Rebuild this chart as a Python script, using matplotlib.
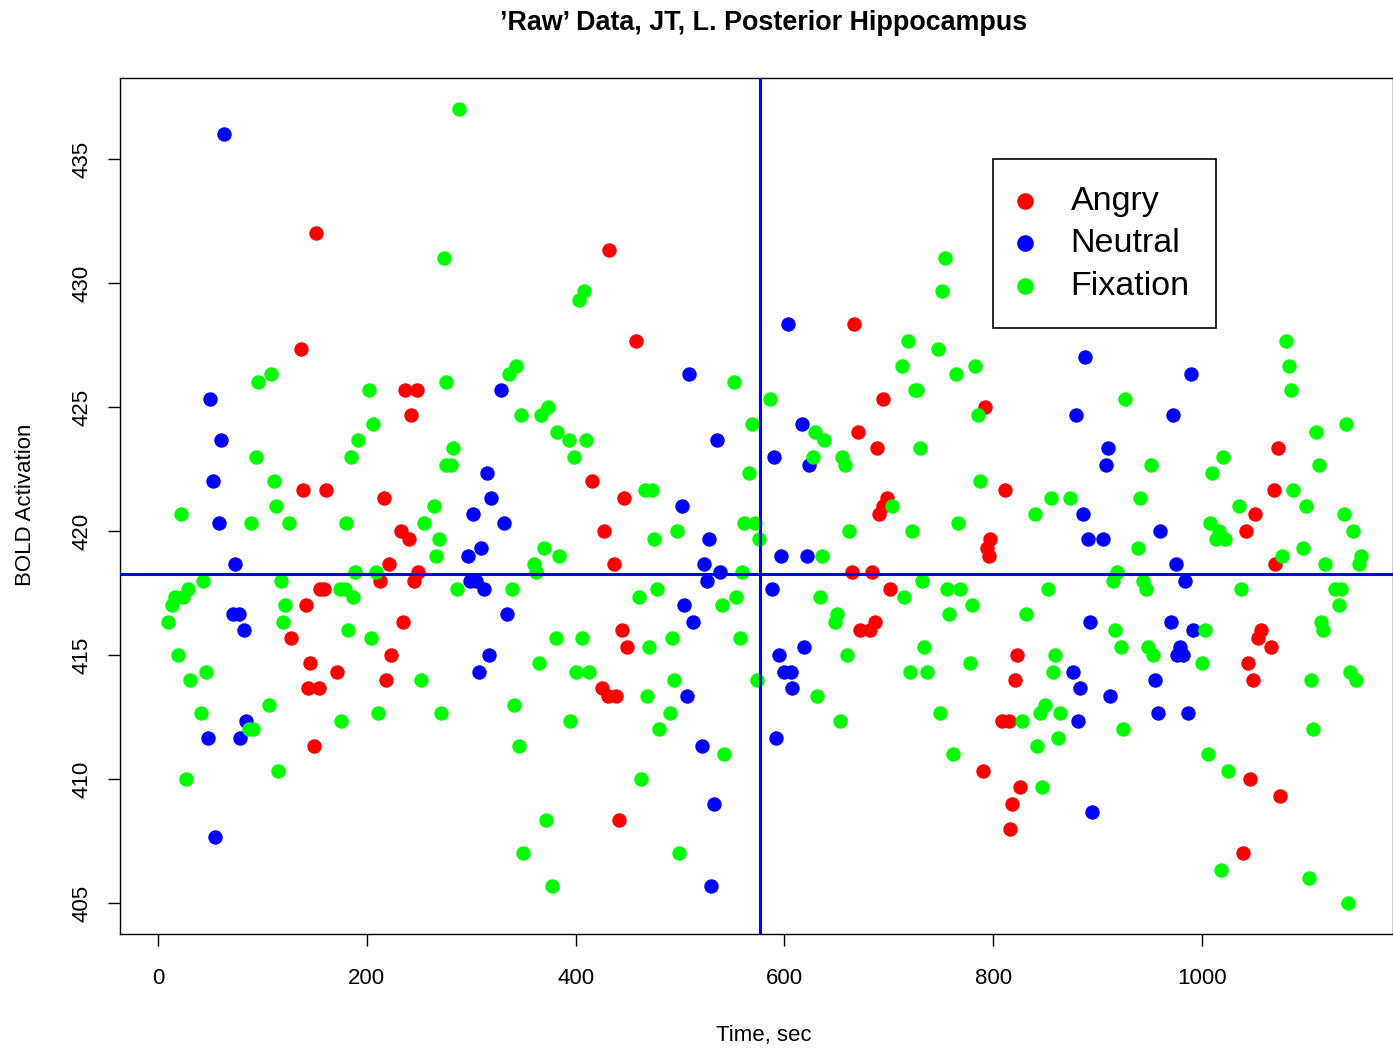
import matplotlib.pyplot as plt

plt.rcParams['font.family'] = ['Liberation Sans', 'DejaVu Sans']

# Angry trials
angry_time = [137, 151, 139, 161, 155, 159, 142, 127, 146, 171, 144, 154, 149,
              237, 248, 242, 216, 233, 240, 221, 213, 249, 245, 235, 223, 218,
              432, 458, 416, 446, 427, 437, 444, 449, 425, 431, 439, 442,
              667, 694, 792, 670, 689, 698, 694, 691, 665, 684, 701, 672, 682, 687,
              797, 794, 796, 790, 811, 823, 821, 808, 815, 826, 818, 816,
              1073, 1069, 1051, 1042, 1070, 1056, 1054, 1066, 1044, 1049, 1046, 1075, 1039]
angry_bold = [427.33, 432.0, 421.67, 421.67, 417.67, 417.67, 417.0, 415.67, 414.67, 414.33, 413.67, 413.67, 411.33,
              425.67, 425.67, 424.67, 421.33, 420.0, 419.67, 418.67, 418.0, 418.33, 418.0, 416.33, 415.0, 414.0,
              431.33, 427.67, 422.0, 421.33, 420.0, 418.67, 416.0, 415.33, 413.67, 413.33, 413.33, 408.33,
              428.33, 425.33, 425.0, 424.0, 423.33, 421.33, 421.0, 420.67, 418.33, 418.33, 417.67, 416.0, 416.0, 416.33,
              419.67, 419.33, 419.0, 410.33, 421.67, 415.0, 414.0, 412.33, 412.33, 409.67, 409.0, 408.0,
              423.33, 421.67, 420.67, 420.0, 418.67, 416.0, 415.67, 415.33, 414.67, 414.0, 410.0, 409.33, 407.0]

# Neutral trials
neutral_time = [63, 50, 60, 53, 58, 74, 72, 78, 82, 84,
                48, 79, 55, 329, 315, 319, 302, 331, 309, 297,
                299, 305, 312, 334, 317, 307, 509, 535, 590, 502,
                528, 523, 597, 538, 526, 588, 504, 512, 595, 600,
                606, 507, 521, 592, 533, 530, 603, 617, 624, 622,
                619, 607, 888, 989, 879, 972, 910, 908, 886, 960,
                891, 905, 975, 984, 893, 970, 991, 979, 976, 982,
                876, 883, 912, 955, 881, 958, 987, 895]
neutral_bold = [436.0, 425.33, 423.67, 422.0, 420.33, 418.67, 416.67, 416.67, 416.0, 412.33,
                411.67, 411.67, 407.67, 425.67, 422.33, 421.33, 420.67, 420.33, 419.33, 419.0,
                418.0, 418.0, 417.67, 416.67, 415.0, 414.33, 426.33, 423.67, 423.0, 421.0,
                419.67, 418.67, 419.0, 418.33, 418.0, 417.67, 417.0, 416.33, 415.0, 414.33,
                414.33, 413.33, 411.33, 411.67, 409.0, 405.67, 428.33, 424.33, 422.67, 419.0,
                415.33, 413.67, 427.0, 426.33, 424.67, 424.67, 423.33, 422.67, 420.67, 420.0,
                419.67, 419.67, 418.67, 418.0, 416.33, 416.33, 416.0, 415.33, 415.0, 415.0,
                414.33, 413.67, 413.33, 414.0, 412.33, 412.67, 412.67, 408.67]

# Fixation
fixation_time = [10, 13, 16, 24, 19, 22, 27, 29, 31, 41,
                 43, 46, 89, 87, 91, 94, 96, 108, 106, 111,
                 113, 115, 118, 120, 122, 125, 174, 179, 180, 182,
                 175, 185, 187, 189, 192, 202, 206, 209, 204, 211,
                 255, 264, 269, 266, 252, 271, 274, 276, 283, 276,
                 281, 286, 288, 336, 343, 348, 339, 341, 346, 350,
                 360, 362, 365, 367, 374, 370, 372, 377, 382, 384,
                 381, 394, 398, 410, 395, 400, 413, 406, 403, 408,
                 466, 473, 475, 478, 461, 470, 468, 463, 480, 490,
                 492, 494, 497, 499, 540, 542, 552, 554, 557, 559,
                 561, 572, 566, 569, 574, 576, 586, 627, 629, 638,
                 636, 634, 631, 650, 648, 653, 655, 658, 660, 662,
                 703, 713, 718, 715, 720, 722, 725, 727, 730, 732,
                 734, 737, 747, 749, 751, 754, 756, 758, 761, 764,
                 766, 768, 778, 780, 783, 785, 787, 831, 828, 840,
                 842, 845, 850, 847, 852, 855, 857, 859, 862, 864,
                 874, 915, 919, 917, 922, 924, 926, 936, 939, 941,
                 943, 946, 948, 953, 951, 1000, 1003, 1006, 1008, 1010,
                 1016, 1013, 1022, 1020, 1018, 1025, 1035, 1037, 1077, 1080,
                 1083, 1085, 1087, 1097, 1100, 1102, 1104, 1106, 1109, 1112,
                 1114, 1116, 1118, 1127, 1133, 1131, 1136, 1138, 1140, 1142,
                 1147, 1145, 1152, 1150]
fixation_bold = [416.33, 417.0, 417.33, 417.33, 415.0, 420.67, 410.0, 417.67, 414.0, 412.67,
                 418.0, 414.33, 420.33, 412.0, 412.0, 423.0, 426.0, 426.33, 413.0, 422.0,
                 421.0, 410.33, 418.0, 416.33, 417.0, 420.33, 417.67, 417.67, 420.33, 416.0,
                 412.33, 423.0, 417.33, 418.33, 423.67, 425.67, 424.33, 418.33, 415.67, 412.67,
                 420.33, 421.0, 419.67, 419.0, 414.0, 412.67, 431.0, 426.0, 423.33, 422.67,
                 422.67, 417.67, 437.0, 426.33, 426.67, 424.67, 417.67, 413.0, 411.33, 407.0,
                 418.67, 418.33, 414.67, 424.67, 425.0, 419.33, 408.33, 405.67, 424.0, 419.0,
                 415.67, 423.67, 423.0, 423.67, 412.33, 414.33, 414.33, 415.67, 429.33, 429.67,
                 421.67, 421.67, 419.67, 417.67, 417.33, 415.33, 413.33, 410.0, 412.0, 412.67,
                 415.67, 414.0, 420.0, 407.0, 417.0, 411.0, 426.0, 417.33, 415.67, 418.33,
                 420.33, 420.33, 422.33, 424.33, 414.0, 419.67, 425.33, 423.0, 424.0, 423.67,
                 419.0, 417.33, 413.33, 416.67, 416.33, 412.33, 423.0, 422.67, 415.0, 420.0,
                 421.0, 426.67, 427.67, 417.33, 414.33, 420.0, 425.67, 425.67, 423.33, 418.0,
                 415.33, 414.33, 427.33, 412.67, 429.67, 431.0, 417.67, 416.67, 411.0, 426.33,
                 420.33, 417.67, 414.67, 417.0, 426.67, 424.67, 422.0, 416.67, 412.33, 420.67,
                 411.33, 412.67, 413.0, 409.67, 417.67, 421.33, 414.33, 415.0, 411.67, 412.67,
                 421.33, 418.0, 418.33, 416.0, 415.33, 412.0, 425.33, 428.67, 419.33, 421.33,
                 418.0, 417.67, 415.33, 415.0, 422.67, 414.67, 416.0, 411.0, 420.33, 422.33,
                 420.0, 419.67, 419.67, 423.0, 406.33, 410.33, 421.0, 417.67, 419.0, 427.67,
                 426.67, 425.67, 421.67, 419.33, 421.0, 406.0, 414.0, 412.0, 424.0, 422.67,
                 416.33, 416.0, 418.67, 417.67, 417.67, 417.0, 420.67, 424.33, 405.0, 414.33,
                 414.0, 420.0, 419.0, 418.67]

split_time = 576.6
mean_bold = 418.27

fig = plt.figure(figsize=(13.93, 10.49), dpi=100)
ax = fig.add_axes([120 / 1393, 115 / 1049, 1273 / 1393, 856 / 1049])

ax.scatter(angry_time, angry_bold, s=108, color='#ff0000', linewidths=0, label='Angry')
ax.scatter(neutral_time, neutral_bold, s=108, color='#0000ff', linewidths=0, label='Neutral')
ax.scatter(fixation_time, fixation_bold, s=108, color='#00ff00', linewidths=0, label='Fixation')

ax.axvline(split_time, color='#0000ff', lw=2.2, zorder=5)
ax.axhline(mean_bold, color='#0000ff', lw=2.2, zorder=5)

ax.set_xlim(-36.4, 1182.9)
ax.set_ylim(403.75, 438.27)
ax.set_xticks([0, 200, 400, 600, 800, 1000])
ax.set_yticks([405, 410, 415, 420, 425, 430, 435])
ax.tick_params(axis='both', labelsize=16, length=8.6, width=1, pad=16)
ax.tick_params(axis='y', labelrotation=90, pad=11)
for lab in ax.get_yticklabels():
    lab.set_va('center')
for sp in ax.spines.values():
    sp.set_linewidth(1)

ax.set_xlabel('Time, sec', fontsize=16, va='center')
ax.xaxis.set_label_coords(0.506, -(1035 - 934) / 856)
ax.set_ylabel('BOLD Activation', fontsize=16, va='center')
ax.yaxis.set_label_coords((25 - 120) / 1273, (934 - 505) / 856)

fig.text(764 / 1393, 1 - 23 / 1049, '\u2019Raw\u2019 Data, JT, L. Posterior Hippocampus',
         ha='center', va='center', fontsize=19.4, fontweight='bold')

leg = ax.legend(loc='upper left', bbox_to_anchor=((993 - 120) / 1273, (934 - 159) / 856),
                borderaxespad=0, fontsize=24.5, scatterpoints=1, markerscale=1.15,
                borderpad=0.78, handlelength=0.3, handletextpad=1.2, labelspacing=0.34,
                fancybox=False, framealpha=1, edgecolor='black')
leg.get_frame().set_linewidth(1.2)

plt.savefig('out.png', dpi=100)
